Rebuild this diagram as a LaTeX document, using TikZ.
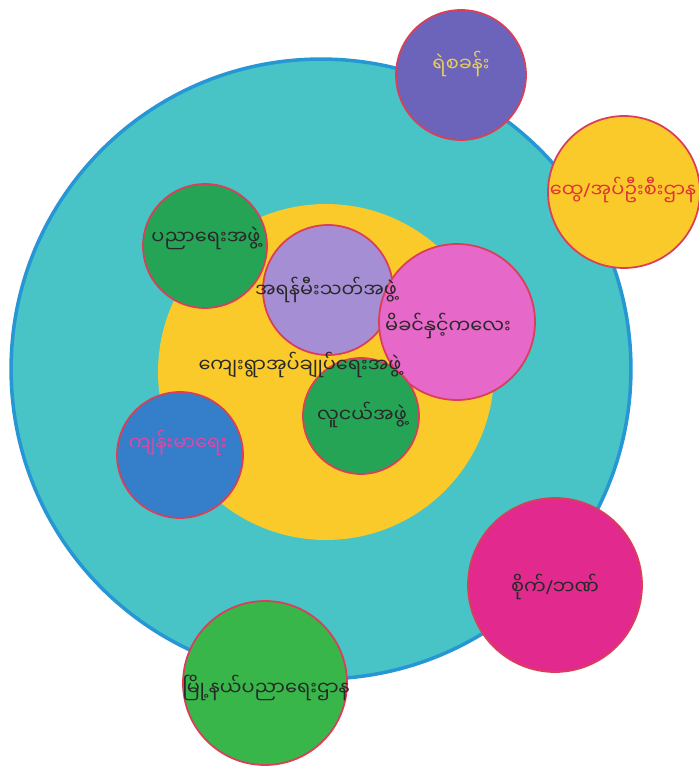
\documentclass[tikz,border=0pt]{standalone}
\usepackage{fontspec}
\newfontfamily\mmfont[Script=Myanmar]{Noto Sans Myanmar UI}
\newfontfamily\slashfont{Noto Sans}
\newcommand{\slashsign}{{\slashfont /}}
\pgfdeclarelayer{circlelayer}
\pgfdeclarelayer{textlayer}
\pgfsetlayers{circlelayer,main,textlayer}
\definecolor{seacyan}{RGB}{72,196,198}
\definecolor{seablue}{RGB}{38,150,212}
\definecolor{sunyellow}{RGB}{250,202,42}
\definecolor{ringred}{RGB}{218,62,88}
\definecolor{slatepurple}{RGB}{108,100,186}
\definecolor{leafgreen}{RGB}{36,164,84}
\definecolor{grassgreen}{RGB}{56,182,74}
\definecolor{lavender}{RGB}{166,142,212}
\definecolor{orchid}{RGB}{230,104,200}
\definecolor{skyblue}{RGB}{52,126,202}
\definecolor{hotpink}{RGB}{226,42,142}
\definecolor{inkdark}{RGB}{40,40,40}
\definecolor{goldtext}{RGB}{232,204,90}
\definecolor{redtext}{RGB}{222,52,56}
\definecolor{pinktext}{RGB}{222,72,166}
\tikzstyle{none}=[inner sep=0pt, text=inkdark, font=\mmfont\fontsize{11}{13}\selectfont]
\tikzstyle{ring}=[circle, draw=ringred, line width=1pt, inner sep=0pt]
\tikzstyle{disc}=[circle, inner sep=0pt]

\begin{document}
\begin{tikzpicture}[x=0.02cm, y=-0.02cm]
	\useasboundingbox (0, 0) rectangle (698, 781);
	\begin{pgfonlayer}{circlelayer}
		\node [style=disc, fill=seacyan, draw=seablue, line width=2pt, minimum size=12.4cm] (0) at (321, 369) {};
		\node [style=disc, fill=sunyellow, minimum size=6.72cm] (1) at (326, 372) {};
		\node [style=ring, fill=slatepurple, minimum size=2.6cm] (2) at (461, 75) {};
		\node [style=ring, fill=sunyellow, minimum size=3.04cm] (3) at (624, 192) {};
		\node [style=ring, fill=leafgreen, minimum size=2.48cm] (4) at (205, 246) {};
		\node [style=ring, fill=lavender, minimum size=2.6cm] (5) at (328, 290) {};
		\node [style=ring, fill=orchid, minimum size=3.12cm] (6) at (457, 322) {};
		\node [style=ring, fill=leafgreen, minimum size=2.32cm] (7) at (361, 416) {};
		\node [style=ring, fill=skyblue, minimum size=2.52cm] (8) at (180, 455) {};
		\node [style=ring, fill=hotpink, minimum size=3.48cm] (9) at (555, 585) {};
		\node [style=ring, fill=grassgreen, minimum size=3.28cm] (10) at (265, 683) {};
	\end{pgfonlayer}
	\begin{pgfonlayer}{textlayer}
		\node [style=none, text=goldtext] (11) at (461, 64) {ရဲစခန်း};
		\node [style=none, text=redtext] (12) at (623, 190) {ထွေ\slashsign အုပ်ဦးစီးဌာန};
		\node [style=none] (13) at (206, 238) {ပညာရေးအဖွဲ့};
		\node [style=none] (14) at (326, 290) {အရန်မီးသတ်အဖွဲ့};
		\node [style=none] (15) at (448, 326) {မိခင်နှင့်ကလေး};
		\node [style=none] (16) at (300, 365) {ကျေးရွာအုပ်ချုပ်ရေးအဖွဲ့};
		\node [style=none] (17) at (362, 415) {လူငယ်အဖွဲ့};
		\node [style=none, text=pinktext] (18) at (178, 443) {ကျန်းမာရေး};
		\node [style=none] (19) at (555, 587) {စိုက်\slashsign ဘဏ်};
		\node [style=none] (20) at (266, 688) {မြို့နယ်ပညာရေးဌာန};
	\end{pgfonlayer}
\end{tikzpicture}
\end{document}
